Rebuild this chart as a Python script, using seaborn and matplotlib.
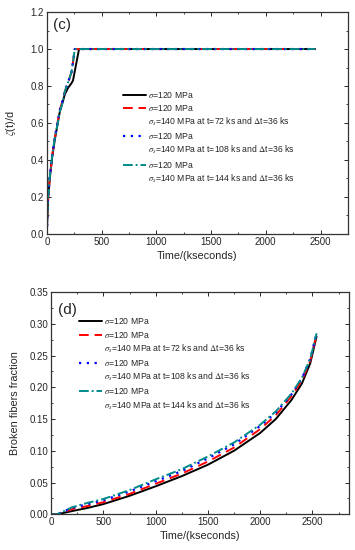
import pandas as pd
import matplotlib.pyplot as plt
import seaborn as sns
from matplotlib.lines import Line2D
from matplotlib.ticker import MultipleLocator

# panel (c): normalised crack depth vs time
t_c = [0, 5, 12, 27, 50, 73, 100, 118, 148, 164, 194, 225, 239, 255, 294, 2450]
black_c = [0, 0.10, 0.20, 0.30, 0.42, 0.51, 0.60, 0.66, 0.72, 0.755, 0.79, 0.815, 0.83, 0.88, 1.0, 1.0]
red_c = [0, 0.10, 0.19, 0.30, 0.43, 0.52, 0.61, 0.67, 0.73, 0.77, 0.82, 0.875, 0.93, 1.0, 1.0, 1.0]
blue_c = [0, 0.11, 0.20, 0.31, 0.43, 0.52, 0.61, 0.67, 0.73, 0.77, 0.82, 0.875, 0.93, 1.0, 1.0, 1.0]
teal_c = [0, 0.11, 0.20, 0.31, 0.43, 0.52, 0.60, 0.66, 0.72, 0.77, 0.82, 0.875, 0.93, 1.0, 1.0, 1.0]

# panel (d): broken fibers fraction vs time
t_d = [0, 60, 200, 350, 500, 750, 1000, 1250, 1500, 1750, 2000, 2150, 2300, 2400, 2480, 2540]
black_d = [0, 0, 0.005, 0.010, 0.016, 0.029, 0.044, 0.060, 0.078, 0.100, 0.128, 0.150, 0.180, 0.206, 0.238, 0.280]
red_d = [0, 0, 0.008, 0.013, 0.019, 0.032, 0.048, 0.064, 0.083, 0.105, 0.134, 0.156, 0.186, 0.211, 0.242, 0.283]
blue_d = [0, 0, 0.010, 0.016, 0.022, 0.036, 0.052, 0.068, 0.088, 0.110, 0.139, 0.160, 0.189, 0.214, 0.245, 0.285]
teal_d = [0, 0, 0.011, 0.018, 0.024, 0.038, 0.055, 0.071, 0.091, 0.113, 0.141, 0.162, 0.190, 0.215, 0.245, 0.285]

labels_main = [r"$\sigma$=120 MPa"] * 4
labels_extra = [
    r"$\sigma_s$=140 MPa at t=72 ks and $\Delta$t=36 ks",
    r"$\sigma_s$=140 MPa at t=108 ks and $\Delta$t=36 ks",
    r"$\sigma_s$=140 MPa at t=144 ks and $\Delta$t=36 ks",
]

sns.set_style("ticks")
plt.rcParams["font.family"] = ["Liberation Sans", "DejaVu Sans"]
plt.rcParams["mathtext.fontset"] = "stix"

styles = [
    dict(color="black", linestyle="-", linewidth=1.4),
    dict(color="#ff0000", linestyle=(0, (5, 3)), linewidth=1.4),
    dict(color="#0000ff", linestyle=(0, (1, 2.5)), linewidth=1.6),
    dict(color="#008b8b", linestyle=(0, (5, 1.5, 1, 1.5)), linewidth=1.4),
]

fig = plt.figure(figsize=(3.55, 5.5), dpi=100)
ax_c = fig.add_axes([0.132, 0.575, 0.848, 0.403])
ax_d = fig.add_axes([0.144, 0.065, 0.839, 0.404])


def draw(ax, t, series):
    lines = []
    for y, st in zip(series, styles):
        df = pd.DataFrame({"t": t, "v": y})
        sns.lineplot(data=df, x="t", y="v", ax=ax, **st)
        lines.append(ax.lines[-1])
    return lines


def style_axes(ax, xmax, ymax, ymaj, ymin):
    ax.set_xlim(0, xmax)
    ax.set_ylim(0, ymax)
    ax.xaxis.set_major_locator(MultipleLocator(500))
    ax.xaxis.set_minor_locator(MultipleLocator(250))
    ax.yaxis.set_major_locator(MultipleLocator(ymaj))
    ax.yaxis.set_minor_locator(MultipleLocator(ymin))
    ax.tick_params(which="both", direction="in", top=True, right=True, labelsize=7, pad=2)
    ax.tick_params(which="major", length=3, width=0.7)
    ax.tick_params(which="minor", length=1.6, width=0.6)
    for s in ax.spines.values():
        s.set_linewidth(0.9)
        s.set_color("#333333")
    ax.set_xlabel("Time/(kseconds)", fontsize=7.8, labelpad=3)


def add_legend(ax, lines, anchor):
    blank = Line2D([], [], color="none")
    handles = [lines[0], lines[1], blank, lines[2], blank, lines[3], blank]
    labels = [labels_main[0], labels_main[1], labels_extra[0],
              labels_main[2], labels_extra[1], labels_main[3], labels_extra[2]]
    ax.legend(handles, labels, loc="upper left", bbox_to_anchor=anchor, frameon=False,
              fontsize=6.2, handlelength=2.7, handletextpad=0.2, labelspacing=0.36,
              borderpad=0, borderaxespad=0)


lines_c = draw(ax_c, t_c, [black_c, red_c, blue_c, teal_c])
style_axes(ax_c, 2750, 1.2, 0.2, 0.1)
ax_c.set_ylabel(r"$\zeta$(t)/d", fontsize=7.8, labelpad=9)
ax_c.text(0.02, 0.94, "(c)", transform=ax_c.transAxes, fontsize=11, va="center")
add_legend(ax_c, lines_c, (0.252, 0.65))

lines_d = draw(ax_d, t_d, [black_d, red_d, blue_d, teal_d])
style_axes(ax_d, 2850, 0.35, 0.05, 0.025)
ax_d.set_ylabel("Broken fibers fraction", fontsize=7.8, labelpad=7)
ax_d.text(0.023, 0.92, "(d)", transform=ax_d.transAxes, fontsize=11, va="center")
add_legend(ax_d, lines_d, (0.094, 0.89))

fig.savefig("out.png", dpi=100)
